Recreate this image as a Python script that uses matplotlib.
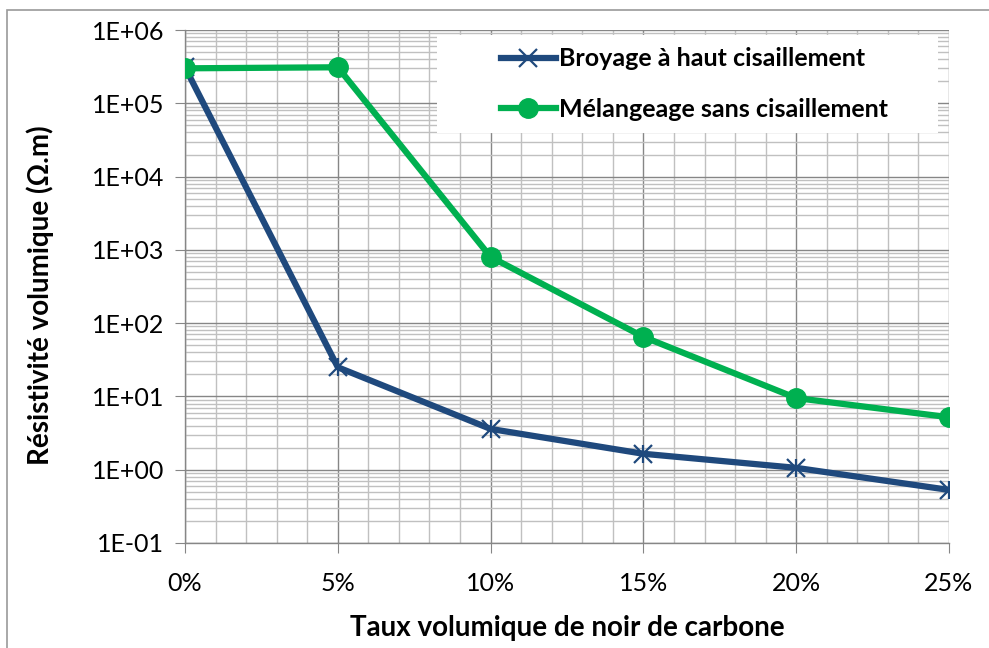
import math
import matplotlib
matplotlib.use("Agg")
import matplotlib.pyplot as plt
from matplotlib.ticker import FixedLocator, FuncFormatter, LogLocator, NullFormatter
from matplotlib.patches import Rectangle

# Carbon black volume fraction (%) and volume resistivity (Ohm.m)
taux = [0, 5, 10, 15, 20, 25]
broyage = [3.1e5, 25, 3.6, 1.65, 1.06, 0.53]
melangeage = [3.0e5, 3.1e5, 800, 65, 9.5, 5.2]
x_labels = ["0%", "5%", "10%", "15%", "20%", "25%"]

plt.rcParams["font.family"] = ["Lato", "DejaVu Sans"]

W, H = 989, 648
fig = plt.figure(figsize=(W / 100, H / 100), dpi=100)
ax = fig.add_axes([185 / W, 1 - 543 / H, (949 - 185) / W, (543 - 30) / H])

major_c = "#868686"
minor_c = "#c0c0c0"

ax.set_yscale("log")
ax.set_xlim(0, 25)
ax.set_ylim(1e-1, 1e6)

ax.xaxis.set_major_locator(FixedLocator(taux))
ax.xaxis.set_minor_locator(FixedLocator([v for v in range(0, 26) if v % 5]))
ax.set_xticklabels(x_labels)
ax.yaxis.set_major_locator(LogLocator(base=10, numticks=20))
ax.yaxis.set_minor_locator(LogLocator(base=10, subs=range(2, 10), numticks=20))
ax.yaxis.set_major_formatter(FuncFormatter(lambda v, p: "1E%+03d" % round(math.log10(v))))
ax.yaxis.set_minor_formatter(NullFormatter())

ax.grid(which="minor", color=minor_c, linewidth=1.0)
ax.grid(which="major", color=major_c, linewidth=1.0)
ax.set_axisbelow(True)

for s in ["top", "right"]:
    ax.spines[s].set_visible(False)
for s in ["left", "bottom"]:
    ax.spines[s].set_color(major_c)
    ax.spines[s].set_linewidth(1.0)

ax.tick_params(which="major", length=7, color=major_c, labelsize=18, labelcolor="black")
ax.tick_params(which="minor", length=0)
ax.tick_params(axis="y", pad=8)
ax.tick_params(axis="x", pad=14)

ax.plot(taux, broyage, color="#1f497d", linewidth=4.5, marker="x", markersize=13,
        markeredgewidth=1.6, label="Broyage à haut cisaillement", zorder=3)
ax.plot(taux, melangeage, color="#00b050", linewidth=4.5, marker="o", markersize=14,
        label="Mélangeage sans cisaillement", zorder=4)
# vertical stroke turns the x markers into asterisks
ax.plot(taux, broyage, linestyle="none", marker="|", markersize=13, color="#1f497d",
        markeredgewidth=1.6, zorder=3)

ax.set_xlabel("Taux volumique de noir de carbone", fontsize=20, fontweight="bold")
ax.set_ylabel("Résistivité volumique (Ω.m)", fontsize=20, fontweight="bold")
ax.xaxis.set_label_coords(0.5, -(628 - 543) / 513, transform=ax.transAxes)
ax.yaxis.set_label_coords(-(185 - 40) / 764, (543 - 295) / 513, transform=ax.transAxes)
ax.xaxis.label.set_va("center")
ax.yaxis.label.set_va("center")

# legend box over the grid
fig.add_artist(Rectangle((437 / W, 1 - 133 / H), (938 - 437) / W, (133 - 35) / H,
                         transform=fig.transFigure, facecolor="white", edgecolor="none", zorder=5))
leg = fig.legend(loc="center left", bbox_to_anchor=(478 / W, 1 - 84 / H), frameon=False,
                 prop={"weight": "bold", "size": 18}, handlelength=2.2, handletextpad=0.15,
                 labelspacing=1.1)
leg.set_zorder(6)

# chart area border
fig.add_artist(Rectangle((7 / W, -0.05), 1.1, 1 - 10 / H + 0.05, transform=fig.transFigure,
                         facecolor="none", edgecolor="#9a9a9a", linewidth=1.2))

fig.savefig("out.png", dpi=100)
